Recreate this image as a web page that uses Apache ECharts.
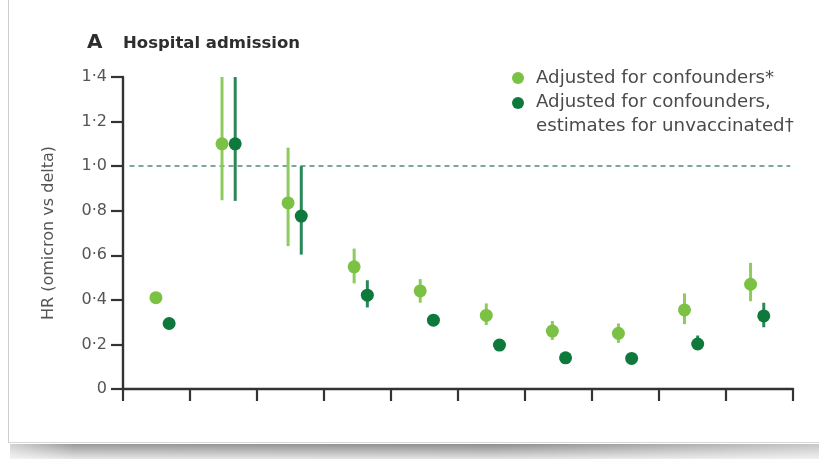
<!DOCTYPE html>
<html>
<head>
<meta charset="utf-8">
<script src="https://cdn.jsdelivr.net/npm/echarts@6/dist/echarts.min.js"></script>
<style>
  html, body { margin: 0; padding: 0; background: #ffffff; }
  #wrap { position: relative; width: 819px; height: 459px; overflow: hidden; }
  #card {
    position: absolute; left: 8px; top: -20px; width: 840px; height: 462px;
    background: #ffffff; border-left: 1.5px solid #cdcdcd; border-bottom: 1.5px solid #d6d6d6;
  }
  #shade {
    position: absolute; left: 10px; top: 444px; width: 809px; height: 15px;
    background:
      linear-gradient(to right, rgba(255,255,255,0.6) 0%, rgba(255,255,255,0.1) 8%, rgba(255,255,255,0) 60%, rgba(255,255,255,0.5) 100%),
      linear-gradient(to bottom, #8e8e8e 0%, #e4e4e4 100%);
  }
  #chart { position: absolute; left: 0; top: 0; width: 819px; height: 459px; }
</style>
</head>
<body>
<div id="wrap">
  <div id="card"></div>
  <div id="shade"></div>
  <div id="chart"></div>
</div>
<script>
// Hazard ratios (omicron vs delta) for hospital admission, ten groups
const groups = ['1', '2', '3', '4', '5', '6', '7', '8', '9', '10'];

const adjustedHR   = [0.41, 1.10, 0.835, 0.548, 0.44, 0.33, 0.26, 0.25, 0.355, 0.47];
const adjustedLow  = [0.395, 0.847, 0.641, 0.474, 0.387, 0.287, 0.22, 0.207, 0.291, 0.394];
const adjustedHigh = [0.425, 1.40, 1.083, 0.63, 0.493, 0.384, 0.305, 0.294, 0.429, 0.566];

const unvaxHR   = [0.294, 1.10, 0.776, 0.421, 0.309, 0.197, 0.14, 0.137, 0.202, 0.328];
const unvaxLow  = [0.28, 0.844, 0.603, 0.366, 0.29, 0.18, 0.125, 0.12, 0.185, 0.277];
const unvaxHigh = [0.31, 1.40, 1.0, 0.488, 0.33, 0.215, 0.155, 0.155, 0.24, 0.387];

const yTicks = [0, 0.2, 0.4, 0.6, 0.8, 1.0, 1.2, 1.4];
const referenceHR = 1.0;

const seriesNames = ['Adjusted for confounders*', 'Adjusted for confounders,\nestimates for unvaccinated\u2020'];
const lightGreen = '#7bc143', lightBar = '#8ecb5c';
const darkGreen = '#0d7a3c', darkBar = '#2a8858';

const FONT = '"DejaVu Sans", "Open Sans", sans-serif';
const OFFSET = 6.6;

function errorBars(low, high, color, dx) {
  return {
    type: 'custom',
    xAxisIndex: 1, yAxisIndex: 1,
    z: 2,
    silent: true,
    data: groups.map((g, i) => [i, low[i], high[i]]),
    renderItem: function (params, api) {
      const a = api.coord([api.value(0), api.value(1)]);
      const b = api.coord([api.value(0), api.value(2)]);
      return {
        type: 'line',
        shape: { x1: a[0] + dx, y1: a[1], x2: b[0] + dx, y2: b[1] },
        style: { stroke: color, lineWidth: 3 }
      };
    }
  };
}

const chart = echarts.init(document.getElementById('chart'), null, { renderer: 'canvas' });

const option = {
  animation: false,
  backgroundColor: 'transparent',
  grid: [
    { left: 123, top: 77, width: 670, height: 312 },
    { left: 129.5, top: 77, width: 660.7, height: 312 }
  ],
  xAxis: [
    {
      type: 'category', gridIndex: 0, data: groups, boundaryGap: true,
      axisLine: { lineStyle: { color: '#333333', width: 2.4 } },
      axisTick: { show: true, length: 12, lineStyle: { color: '#333333', width: 2.2 } },
      axisLabel: { show: false },
      splitLine: { show: false }
    },
    {
      type: 'category', gridIndex: 1, data: groups, boundaryGap: true, show: false
    }
  ],
  yAxis: [
    {
      type: 'value', gridIndex: 0, min: yTicks[0], max: yTicks[yTicks.length - 1], interval: 0.2,
      name: 'HR (omicron vs delta)', nameLocation: 'middle', nameGap: 66,
      nameTextStyle: { fontFamily: FONT, fontSize: 16, color: '#555555' },
      axisLine: { show: true, lineStyle: { color: '#333333', width: 2.4 } },
      axisTick: { show: true, length: 12, lineStyle: { color: '#333333', width: 2.2 } },
      axisLabel: {
        fontFamily: FONT, fontSize: 16, color: '#555555', margin: 16,
        formatter: v => (v === 0 ? '0' : v.toFixed(1).replace('.', '\u00B7'))
      },
      splitLine: { show: false }
    },
    { type: 'value', gridIndex: 1, min: yTicks[0], max: yTicks[yTicks.length - 1], interval: 0.2, show: false }
  ],
  series: [
    errorBars(adjustedLow, adjustedHigh, lightBar, -OFFSET),
    errorBars(unvaxLow, unvaxHigh, darkBar, OFFSET),
    {
      name: seriesNames[0], type: 'scatter', xAxisIndex: 1, yAxisIndex: 1, z: 3,
      symbol: 'circle', symbolSize: 13, symbolOffset: [-OFFSET, 0],
      itemStyle: { color: lightGreen, opacity: 1 },
      data: adjustedHR.map((v, i) => [i, v]),
      markLine: {
        silent: true, symbol: 'none', z: 1,
        label: { show: false },
        lineStyle: { color: '#4e8a80', type: [5, 4], width: 1.6 },
        data: [{ yAxis: referenceHR }]
      }
    },
    {
      name: seriesNames[1], type: 'scatter', xAxisIndex: 1, yAxisIndex: 1, z: 3,
      symbol: 'circle', symbolSize: 13, symbolOffset: [OFFSET, 0],
      itemStyle: { color: darkGreen, opacity: 1 },
      data: unvaxHR.map((v, i) => [i, v])
    }
  ],
  graphic: [
    // panel heading
    {
      type: 'text', left: 87, top: 33,
      style: { text: 'A', font: 'bold 20px ' + FONT, fill: '#2e2e2e' }
    },
    {
      type: 'text', left: 123, top: 35,
      style: { text: 'Hospital admission', font: 'bold 16.5px ' + FONT, fill: '#2e2e2e' }
    },
    // legend
    { type: 'circle', shape: { cx: 518, cy: 78, r: 6 }, style: { fill: lightGreen } },
    { type: 'circle', shape: { cx: 518, cy: 103, r: 6 }, style: { fill: darkGreen } },
    {
      type: 'text', left: 536, top: 66,
      style: { text: seriesNames[0], font: '18.2px ' + FONT, fill: '#4a4a4a', lineHeight: 24.5 }
    },
    {
      type: 'text', left: 536, top: 90,
      style: { text: seriesNames[1], font: '18.2px ' + FONT, fill: '#4a4a4a', lineHeight: 24.5 }
    }
  ]
};

chart.setOption(option);
</script>
</body>
</html>
